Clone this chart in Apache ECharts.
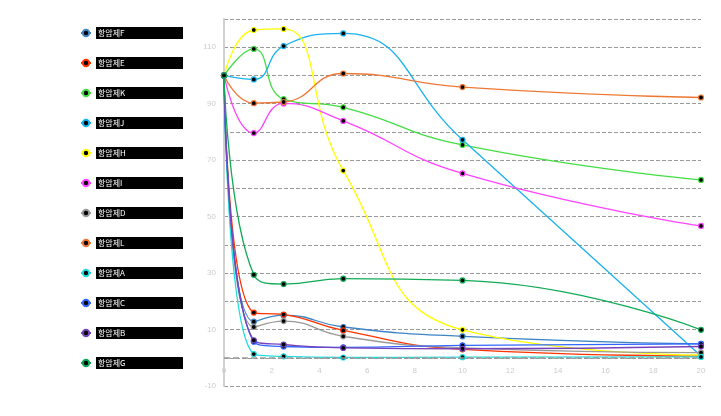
<!DOCTYPE html>
<html><head><meta charset="utf-8">
<script src="https://cdn.jsdelivr.net/npm/echarts@6/dist/echarts.min.js"></script>
<style>html,body{margin:0;padding:0;background:#fff}#c{width:721px;height:416px}</style>
</head><body><div id="c"></div>
<script>
const xValues = [0, 1.25, 2.5, 5, 10, 20];
const seriesNames = ['항암제F','항암제E','항암제K','항암제J','항암제H','항암제I','항암제D','항암제L','항암제A','항암제C','항암제B','항암제G'];
const colors = ['#3d85c6','#ff3300','#44dd44','#1ab2ee','#ffff00','#ff44ff','#999999','#ee7733','#22dddd','#3366ff','#7744bb','#11aa55'];
const dataF = [100, 12.8, 15.1, 10.9, 7.6, 4.9];
const dataE = [100, 16.0, 15.3, 9.7, 3.0, 0.6];
const dataK = [100, 109.4, 91.6, 88.7, 75.4, 63.0];
const dataJ = [100, 98.6, 110.4, 114.9, 77.2, 0.6];
const dataH = [100, 116.1, 116.5, 66.3, 9.9, 1.0];
const dataI = [100, 79.6, 90.1, 83.9, 65.3, 46.7];
const dataD = [100, 10.9, 13.0, 7.6, 3.5, 1.8];
const dataL = [100, 90.2, 90.6, 100.7, 95.9, 92.2];
const dataA = [100, 1.3, 0.5, 0.1, 0.2, 0.3];
const dataC = [100, 5.7, 4.0, 3.7, 4.4, 4.9];
const dataB = [100, 6.2, 4.7, 3.5, 3.2, 4.0];
const dataG = [100, 29.4, 26.1, 28.0, 27.4, 9.9];
const allData = [dataF,dataE,dataK,dataJ,dataH,dataI,dataD,dataL,dataA,dataC,dataB,dataG];

const chart = echarts.init(document.getElementById('c'));
const series = seriesNames.map((n,i)=>({
  name:n,type:'line',smooth:0.5,
  data: xValues.map((x,j)=>[x,allData[i][j]]),
  symbol:'circle',symbolSize:5,
  lineStyle:{color:colors[i],width:1.3},
  itemStyle:{color:'#000',borderColor:colors[i],borderWidth:1.2}
}));
series[0].markLine = {silent:true,symbol:'none',label:{show:false},
  lineStyle:{color:'#999',type:'dashed',width:1.5},data:[{yAxis:0}]};
chart.setOption({
  animation:false,
  backgroundColor:'#fff',
  grid:{left:224,right:20,top:19,bottom:30},
  legend:{
    orient:'vertical', left:75, top:22, itemGap:18, itemWidth:10, itemHeight:8,
    data: seriesNames,
    textStyle:{color:'#fff',backgroundColor:'#000',width:83,height:10,lineHeight:10,fontSize:8,padding:[1,2],fontFamily:'Noto Sans CJK KR'}
  },
  xAxis:{type:'value',min:0,max:20,interval:2,
    axisLine:{show:false,onZero:false},
    axisTick:{show:false},
    axisLabel:{color:'#ccc',fontSize:8,margin:-19},
    splitLine:{show:false}},
  yAxis:{type:'value',min:-10,max:120,interval:10,
    axisLine:{show:true,lineStyle:{color:'#d0d0d0',width:2}},
    axisTick:{show:false},
    axisLabel:{color:'#ccc',fontSize:8,margin:8,formatter:v=>((v+10)%20===0?String(v):'')},
    splitLine:{lineStyle:{color:'#999',type:'dashed',width:1}}},
  series: series
});
</script></body></html>
